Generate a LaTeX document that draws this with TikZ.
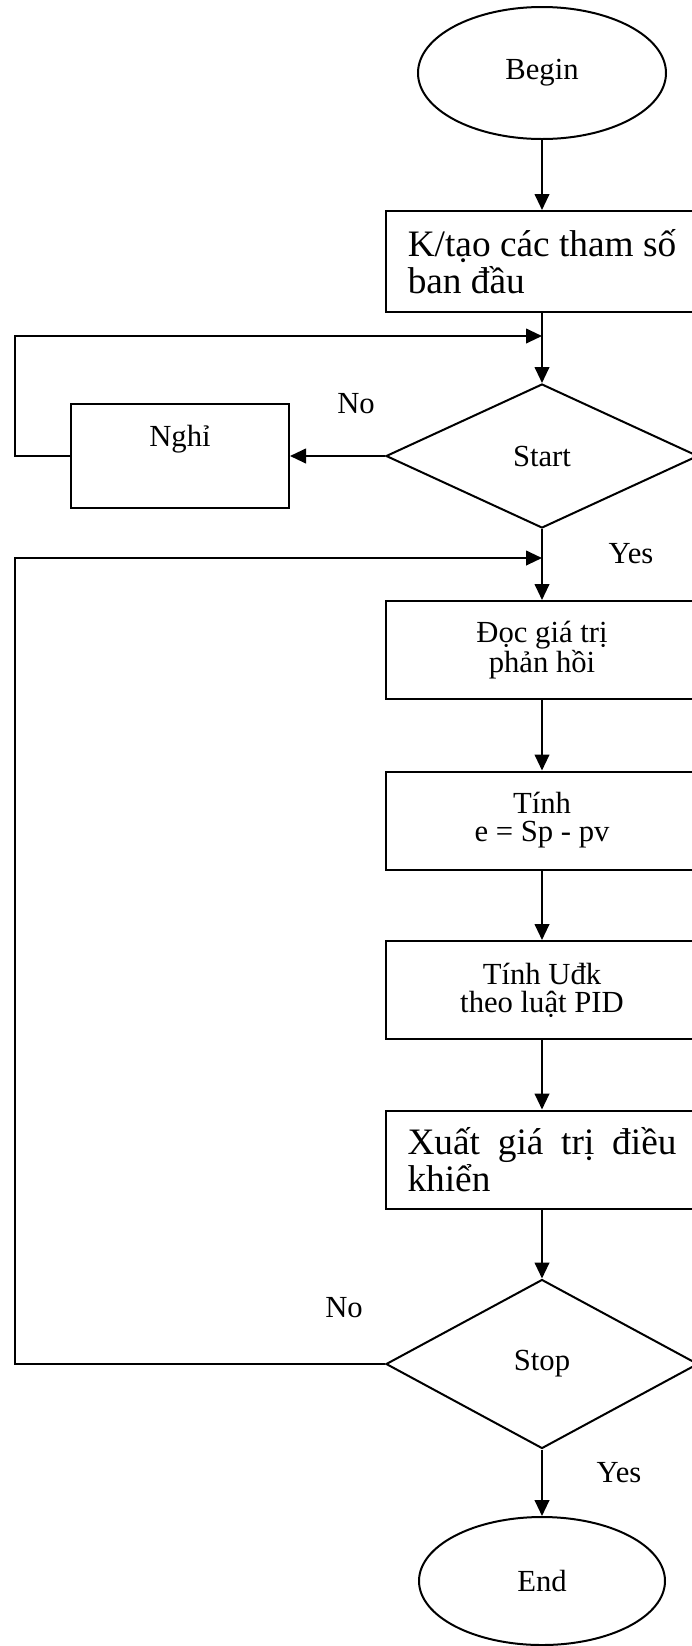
\documentclass[tikz,border=0pt]{standalone}
\usepackage{fontspec}
\setmainfont{Liberation Serif}
\usetikzlibrary{shapes.geometric, arrows.meta, positioning}

\begin{document}
\begin{tikzpicture}[x=0.75pt, y=-0.75pt, line width=1.5pt,
    every node/.style={font=\fontsize{23}{21}\selectfont},
    term/.style={draw, ellipse, inner sep=0pt},
    proc/.style={draw, rectangle, minimum width=234pt, minimum height=73.5pt, align=center},
    decision/.style={draw, diamond, inner sep=0pt, minimum width=234pt},
    big/.style={font=\fontsize{28}{28}\selectfont, align=left},
    flow/.style={-{Triangle[length=12pt, width=11pt]}}]
            \clip (0,0) rectangle (692,1646);

            \node[term, minimum width=186pt, minimum height=99pt] (begin) at (542,73) {Begin};
            \node[proc, big, minimum height=75.75pt] (init) at (542,261.5) {K/tạo các tham số\\ban đầu};
            \coordinate (j1) at (542,336);
            \node[decision, minimum height=108pt] (start) at (542,456) {Start};
            \node[draw, rectangle, minimum width=163.5pt, minimum height=78pt,
                  text height=16pt, text depth=31pt] (nghi) at (180,456) {Nghỉ};
            \coordinate (l1) at (14.6,456);
            \coordinate (j2) at (542,558);
            \node[proc] (read) at (542,650) {Đọc giá trị\\phản hồi};
            \node[proc] (err) at (542,820.5) {Tính\\e = Sp - pv};
            \node[proc] (pid) at (542,990) {Tính Uđk\\theo luật PID};
            \node[proc, big] (out) at (542,1159.5) {\makebox[201.75pt][s]{Xuất giá trị điều}\\khiển};
            \node[decision, minimum height=126.75pt] (stop) at (542,1364) {Stop};
            \coordinate (l2) at (14.6,1364);
            \node[term, minimum width=184.5pt, minimum height=96pt] (end) at (542,1581) {End};

            % branch labels
            \node[anchor=base] (no1) at (356,413) {No};
            \node[anchor=base] (yes1) at (631,563) {Yes};
            \node[anchor=base] (no2) at (344,1317) {No};
            \node[anchor=base] (yes2) at (619,1482) {Yes};

            \draw[flow] (begin) -- (init);
            \draw (init) -- (j1);
            \draw[flow] (j1) -- (start);
            \draw[flow] (start.west) -- (nghi.east);
            \draw[flow] (nghi.west) -- (l1) |- (j1);
            \draw (start) -- (j2);
            \draw[flow] (j2) -- (read);
            \draw[flow] (read) -- (err);
            \draw[flow] (err) -- (pid);
            \draw[flow] (pid) -- (out);
            \draw[flow] (out) -- (stop);
            \draw[flow] (stop.west) -- (l2) |- (j2);
            \draw[flow] (stop) -- (end);

\end{tikzpicture}
\end{document}
